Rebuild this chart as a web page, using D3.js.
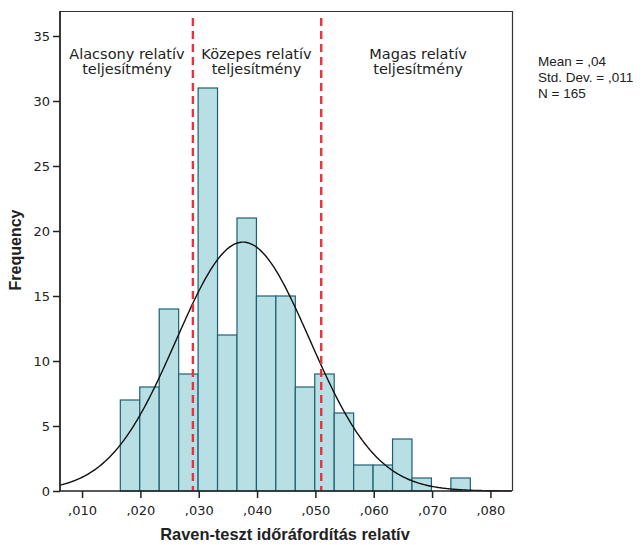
<!DOCTYPE html>
<html>
<head>
<meta charset="utf-8">
<script src="https://d3js.org/d3.v7.min.js"></script>
<style>
body { margin: 0; background: #fff; }
svg text { fill: #222; }
</style>
</head>
<body>
<script>
// histogram bins (lower edge) and counts
var binStart = 0.01656;
var binWidth = 0.003333;
var counts = [7, 8, 14, 9, 31, 12, 21, 15, 15, 8, 9, 6, 2, 2, 4, 1, 0, 1];
var xTicks = [0.01, 0.02, 0.03, 0.04, 0.05, 0.06, 0.07, 0.08];
var yTicks = [0, 5, 10, 15, 20, 25, 30, 35];
var cutLines = [0.029, 0.051];
var regionLabels = [
  { x: 0.0177, lines: ["Alacsony relatív", "teljesítmény"] },
  { x: 0.0399, lines: ["Közepes relatív", "teljesítmény"] },
  { x: 0.0676, lines: ["Magas relatív", "teljesítmény"] }
];
var statLines = ["Mean = ,04", "Std. Dev. = ,011", "N = 165"];
var fitMean = 0.0376, fitSd = 0.01146, N = 165;

var W = 643, H = 545;
var mLeft = 60, mRight = 512, mTop = 11, mBottom = 491;

var svg = d3.select("body").append("svg").attr("width", W).attr("height", H);

var x = d3.scaleLinear().domain([0.00622, 0.0837]).range([mLeft, mRight]);
var y = d3.scaleLinear().domain([0, 35]).range([mBottom, 36]);

var bins = counts.map(function(c, i) {
  return { x0: binStart + i * binWidth, x1: binStart + (i + 1) * binWidth, n: c };
}).filter(function(d) { return d.n > 0; });

// bars
svg.selectAll("rect.bar").data(bins).enter().append("rect")
  .attr("class", "bar")
  .attr("x", function(d) { return x(d.x0); })
  .attr("width", function(d) { return x(d.x1) - x(d.x0); })
  .attr("y", function(d) { return y(d.n); })
  .attr("height", function(d) { return mBottom - y(d.n); })
  .attr("fill", "#b8e0e4")
  .attr("stroke", "#1f5f73")
  .attr("stroke-width", 1.2);

// normal curve
var pts = d3.range(0.00622, 0.0837, 0.0002).map(function(v) {
  var z = (v - fitMean) / fitSd;
  return [v, N * binWidth / (fitSd * Math.sqrt(2 * Math.PI)) * Math.exp(-0.5 * z * z)];
});
svg.append("path").datum(pts)
  .attr("fill", "none").attr("stroke", "#111").attr("stroke-width", 1.4)
  .attr("d", d3.line().x(function(d) { return x(d[0]); }).y(function(d) { return y(d[1]); }));

// red cut lines
svg.selectAll("line.cut").data(cutLines).enter().append("line")
  .attr("x1", function(d) { return x(d); }).attr("x2", function(d) { return x(d); })
  .attr("y1", 18).attr("y2", mBottom)
  .attr("stroke", "#e8323c").attr("stroke-width", 2.4)
  .attr("stroke-dasharray", "8,5");

// frame
svg.append("path")
  .attr("d", "M" + mLeft + "," + mBottom + "V" + (mTop + 0.5) + "H" + (mRight + 0.5) + "V" + mBottom)
  .attr("fill", "none").attr("stroke", "#333").attr("stroke-width", 1.2);

// axes
var fmt = function(d) { return d3.format(".3f")(d).replace("0.", ","); };
var gx = svg.append("g").attr("transform", "translate(0," + mBottom + ")")
  .call(d3.axisBottom(x).tickValues(xTicks).tickFormat(fmt).tickSizeInner(7).tickSizeOuter(0).tickPadding(8));
var gy = svg.append("g").attr("transform", "translate(" + mLeft + ",0)")
  .call(d3.axisLeft(y).tickValues(yTicks).tickSizeInner(7).tickSizeOuter(0).tickPadding(3));
gx.select(".domain").attr("d", "M" + mLeft + ",0H" + mRight);
gy.select(".domain").attr("d", "M0," + mBottom + "V" + mTop);
[gx, gy].forEach(function(g) {
  g.select(".domain").attr("stroke", "#222").attr("stroke-width", 1.5);
  g.selectAll(".tick line").attr("stroke", "#222").attr("stroke-width", 1.5);
  g.selectAll("text").attr("font-family", "DejaVu Sans").attr("font-size", 13).attr("fill", "#222");
});

// region labels
regionLabels.forEach(function(r) {
  var t = svg.append("text").attr("text-anchor", "middle")
    .attr("font-family", "DejaVu Sans").attr("font-size", 14.5);
  r.lines.forEach(function(l, i) {
    t.append("tspan").attr("x", x(r.x)).attr("y", 59 + i * 15).text(l);
  });
});

// stats
statLines.forEach(function(l, i) {
  svg.append("text").attr("x", 538).attr("y", 66 + i * 16)
    .attr("font-family", "Liberation Sans").attr("font-size", 13.5).text(l);
});

// axis titles
svg.append("text").attr("x", 285).attr("y", 540).attr("text-anchor", "middle")
  .attr("font-family", "Liberation Sans").attr("font-weight", "bold").attr("font-size", 16.4)
  .text("Raven-teszt időráfordítás relatív");
svg.append("text").attr("transform", "translate(21,250) rotate(-90)").attr("text-anchor", "middle")
  .attr("font-family", "Liberation Sans").attr("font-weight", "bold").attr("font-size", 16)
  .text("Frequency");
</script>
</body>
</html>
